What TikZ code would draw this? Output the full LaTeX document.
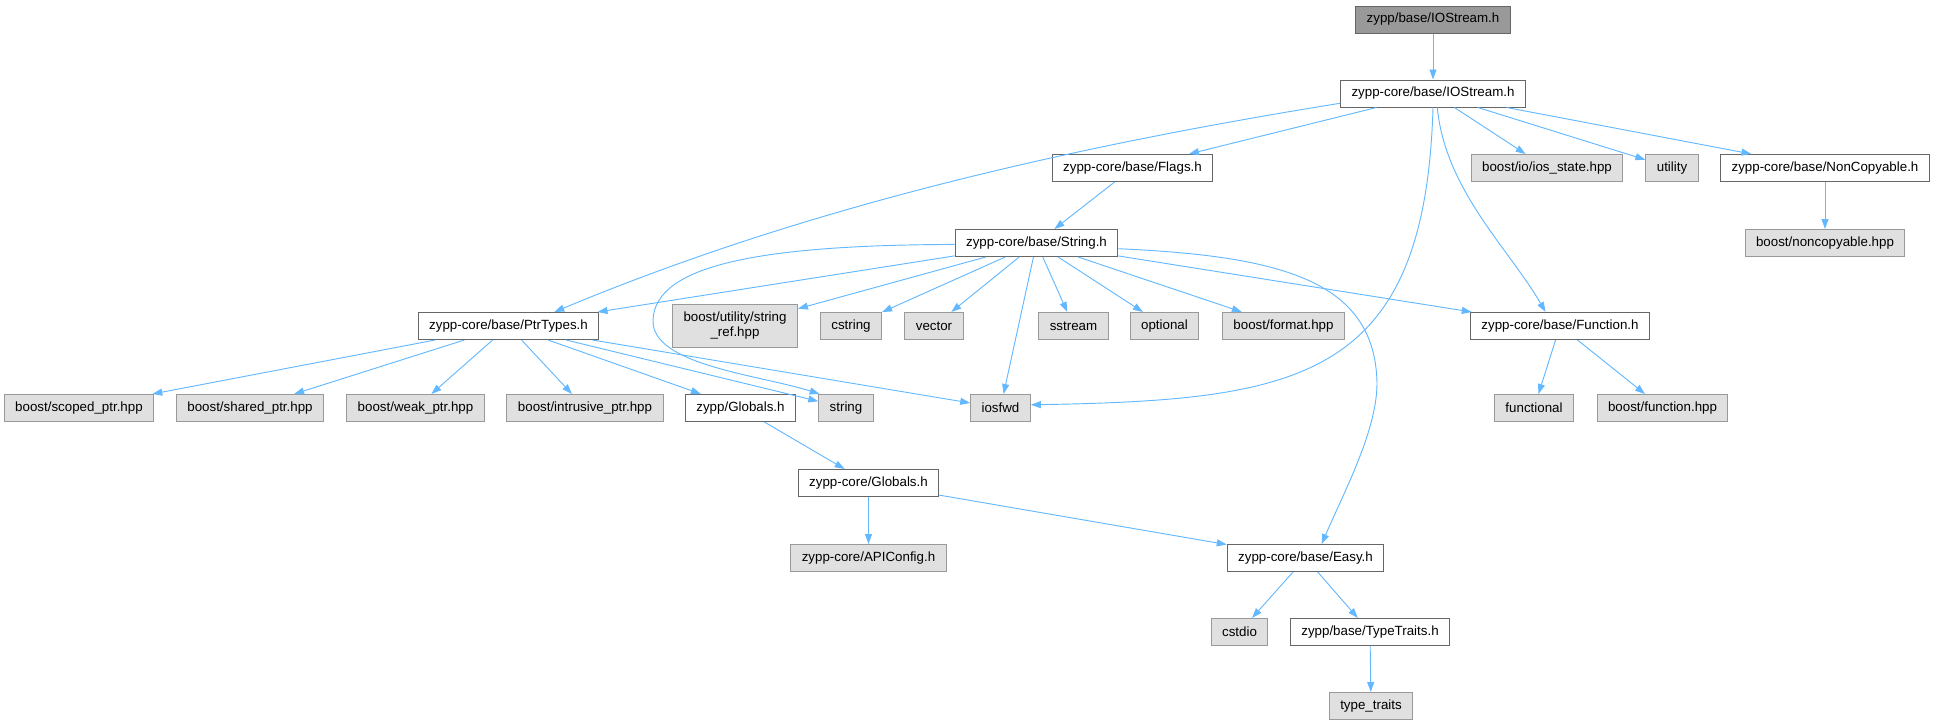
\documentclass[tikz,border=0pt]{standalone}
\usepackage{fontspec}
\setmainfont{Liberation Sans}
\usetikzlibrary{arrows.meta, positioning}

\definecolor{edgeblue}{HTML}{63B8FF}
\definecolor{boxgray}{HTML}{E0E0E0}
\definecolor{bordergray}{HTML}{999999}
\definecolor{borderdark}{HTML}{666666}
\definecolor{rootgray}{HTML}{999999}

\begin{document}
\begin{tikzpicture}[x=0.75pt, y=-0.75pt,
                    file node/.style= {rectangle,
                      draw=borderdark,
                      fill=white,
                      line width=0.75pt,
                      font=\fontsize{10}{11.25}\selectfont,
                      inner xsep=8.2pt, inner ysep=0pt,
                      minimum height=20.25pt},
                    sys node/.style= {file node, draw=bordergray, fill=boxgray},
                    top node/.style= {file node, fill=rootgray},
                    dep/.style= {draw=edgeblue, line width=0.7pt,
                      -{Triangle[length=7.5pt, width=5.25pt]}}]

  \useasboundingbox (0,0) rectangle (1933,725);

  \node[top node] (1) at (1433,19.5) {zypp/base/IOStream.h};
  \node[file node] (2) at (1433,93.5) {zypp-core/base/IOStream.h};
  \node[file node] (3) at (1132.5,168) {zypp-core/base/Flags.h};
  \node[sys node] (4) at (1547,168) {boost/io/ios\_state.hpp};
  \node[sys node] (5) at (1672,168) {utility};
  \node[file node] (6) at (1825,168) {zypp-core/base/NonCopyable.h};
  \node[file node] (7) at (1036.5,243) {zypp-core/base/String.h};
  \node[sys node] (8) at (1825,243) {boost/noncopyable.hpp};
  \node[file node] (9) at (508.5,326) {zypp-core/base/PtrTypes.h};
  \node[sys node, align=center, minimum height=32.25pt] (10) at (735,326) {boost/utility/string\\\_ref.hpp};
  \node[sys node] (11) at (851,326) {cstring};
  \node[sys node] (12) at (934,326) {vector};
  \node[sys node] (13) at (1073.5,326) {sstream};
  \node[sys node] (14) at (1164.5,326) {optional};
  \node[sys node] (15) at (1283.5,326) {boost/format.hpp};
  \node[file node] (16) at (1560,326) {zypp-core/base/Function.h};
  \node[sys node] (17) at (79,408) {boost/scoped\_ptr.hpp};
  \node[sys node] (18) at (250,408) {boost/shared\_ptr.hpp};
  \node[sys node] (19) at (415.5,408) {boost/weak\_ptr.hpp};
  \node[sys node] (20) at (585,408) {boost/intrusive\_ptr.hpp};
  \node[file node] (21) at (740.5,408) {zypp/Globals.h};
  \node[sys node] (22) at (846,408) {string};
  \node[sys node] (23) at (1000.5,408) {iosfwd};
  \node[sys node] (24) at (1534,408) {functional};
  \node[sys node] (25) at (1662.5,408) {boost/function.hpp};
  \node[file node] (26) at (868.5,483) {zypp-core/Globals.h};
  \node[sys node] (27) at (868.5,558) {zypp-core/APIConfig.h};
  \node[file node] (28) at (1305.5,558) {zypp-core/base/Easy.h};
  \node[sys node] (29) at (1239.5,632) {cstdio};
  \node[file node] (30) at (1370,632) {zypp/base/TypeTraits.h};
  \node[sys node] (31) at (1371,706) {type\_traits};

  \path
    (1) edge[dep] (2)
    (2) edge[dep] (3)
    (2) edge[dep] (4)
    (2) edge[dep] (5)
    (2) edge[dep] (6)
    (3) edge[dep] (7)
    (6) edge[dep] (8)
    (7) edge[dep] (9)
    (7) edge[dep] (10)
    (7) edge[dep] (11)
    (7) edge[dep] (12)
    (7) edge[dep] (23)
    (7) edge[dep] (13)
    (7) edge[dep] (14)
    (7) edge[dep] (15)
    (7) edge[dep] (16)
    (9) edge[dep] (17)
    (9) edge[dep] (18)
    (9) edge[dep] (19)
    (9) edge[dep] (20)
    (9) edge[dep] (21)
    (9) edge[dep] (22)
    (9) edge[dep] (23)
    (16) edge[dep] (24)
    (16) edge[dep] (25)
    (21) edge[dep] (26)
    (26) edge[dep] (27)
    (26) edge[dep] (28)
    (28) edge[dep] (29)
    (28) edge[dep] (30)
    (30) edge[dep] (31);

  \draw[dep] (2.186) .. controls (1081,145) and (813,204) .. (9.17);
  \draw[dep] (2.south) .. controls (1425,380) and (1300,400) .. (23.6);
  \draw[dep] (2.-73) .. controls (1445,190) and (1510,250) .. (16.136);
  \draw[dep] (7.181) .. controls (760,245) and (655,265) .. (653,320)
                     .. controls (651,365) and (760,375) .. (22.152);
  \draw[dep] (7.-4) .. controls (1280,256) and (1375,280) .. (1377,383)
                    .. controls (1377,430) and (1345,490) .. (28.41);
\end{tikzpicture}
\end{document}
